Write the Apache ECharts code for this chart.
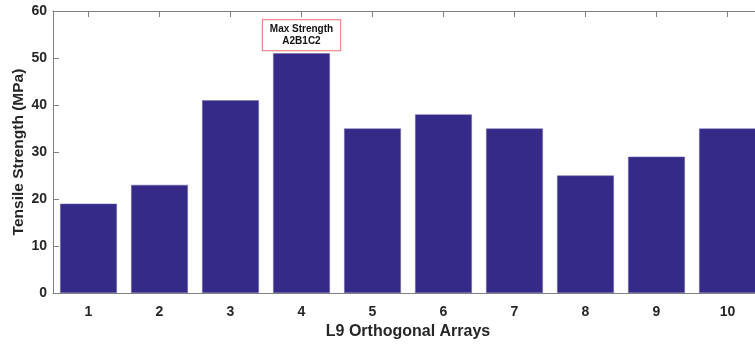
<!DOCTYPE html>
<html>
<head>
<meta charset="utf-8">
<script src="https://cdn.jsdelivr.net/npm/echarts@6/dist/echarts.min.js"></script>
<style>html,body{margin:0;padding:0;background:#fff;overflow:hidden;width:755px;height:345px}#c{width:763px;height:345px}</style>
</head>
<body>
<div id="c"></div>
<script>
const categories = ['1','2','3','4','5','6','7','8','9','10'];
const strength = [19, 23, 41, 51, 35, 38, 35, 25, 29, 35];
const yTicks = [0, 10, 20, 30, 40, 50, 60];
const xTitle = 'L9 Orthogonal Arrays';
const yTitle = 'Tensile Strength (MPa)';
const noteLines = ['Max Strength', 'A2B1C2'];
const noteIndex = 3;

const axisGray = '#808080';
const textCol = '#262626';
const font = 'Liberation Sans, Arial, sans-serif';

const chart = echarts.init(document.getElementById('c'), null, {renderer: 'canvas'});
chart.setOption({
  animation: false,
  backgroundColor: '#fff',
  grid: {left: 53, top: 11, right: 0, bottom: 52, containLabel: false, outerBoundsMode: 'none'},
  xAxis: [{
    type: 'category', data: categories, position: 'bottom',
    name: xTitle, nameLocation: 'middle', nameGap: 28,
    nameTextStyle: {fontFamily: font, fontWeight: 'bold', fontSize: 16, color: textCol},
    axisLine: {lineStyle: {color: axisGray, width: 1}},
    axisTick: {show: false},
    axisLabel: {fontFamily: font, fontWeight: 'bold', fontSize: 14, color: textCol, margin: 12}
  }, {
    type: 'category', data: categories, position: 'top',
    axisLine: {show: true, onZero: false, lineStyle: {color: axisGray, width: 1}},
    axisTick: {show: true, inside: true, interval: 0, alignWithLabel: true, length: 6, lineStyle: {color: axisGray}},
    axisLabel: {show: false, interval: 0}
  }],
  yAxis: [{
    type: 'value', min: yTicks[0], max: yTicks[yTicks.length - 1], interval: 10,
    name: yTitle, nameLocation: 'middle', nameGap: 26, nameMoveOverlap: false,
    nameTextStyle: {fontFamily: font, fontWeight: 'bold', fontSize: 15.5, color: textCol},
    axisLine: {show: true, lineStyle: {color: axisGray, width: 1}},
    axisTick: {show: true, inside: true, length: 6, lineStyle: {color: axisGray}},
    axisLabel: {fontFamily: font, fontWeight: 'bold', fontSize: 14, color: textCol, margin: 6},
    splitLine: {show: false}
  }, {
    type: 'value', min: yTicks[0], max: yTicks[yTicks.length - 1], interval: 10, position: 'right',
    axisLine: {show: true, lineStyle: {color: axisGray, width: 1}},
    axisTick: {show: true, inside: true, length: 6, lineStyle: {color: axisGray}},
    axisLabel: {show: false},
    splitLine: {show: false}
  }],
  series: [{
    type: 'bar', xAxisIndex: 0, yAxisIndex: 0,
    barWidth: '80%',
    itemStyle: {color: '#352a87', borderColor: '#6f68aa', borderWidth: 0.5},
    data: strength.map((v, i) => i === noteIndex ? {
      value: v,
      label: {
        show: true, position: 'top', distance: 3,
        formatter: noteLines.join('\n'),
        fontFamily: font, fontWeight: 'bold', fontSize: 10, lineHeight: 12, color: '#111',
        backgroundColor: '#fff', borderColor: '#f07070', borderWidth: 1,
        padding: [3, 7, 3, 7], align: 'center'
      }
    } : v)
  }, {
    type: 'bar', xAxisIndex: 1, yAxisIndex: 1, data: [], silent: true
  }]
});
</script>
</body>
</html>
